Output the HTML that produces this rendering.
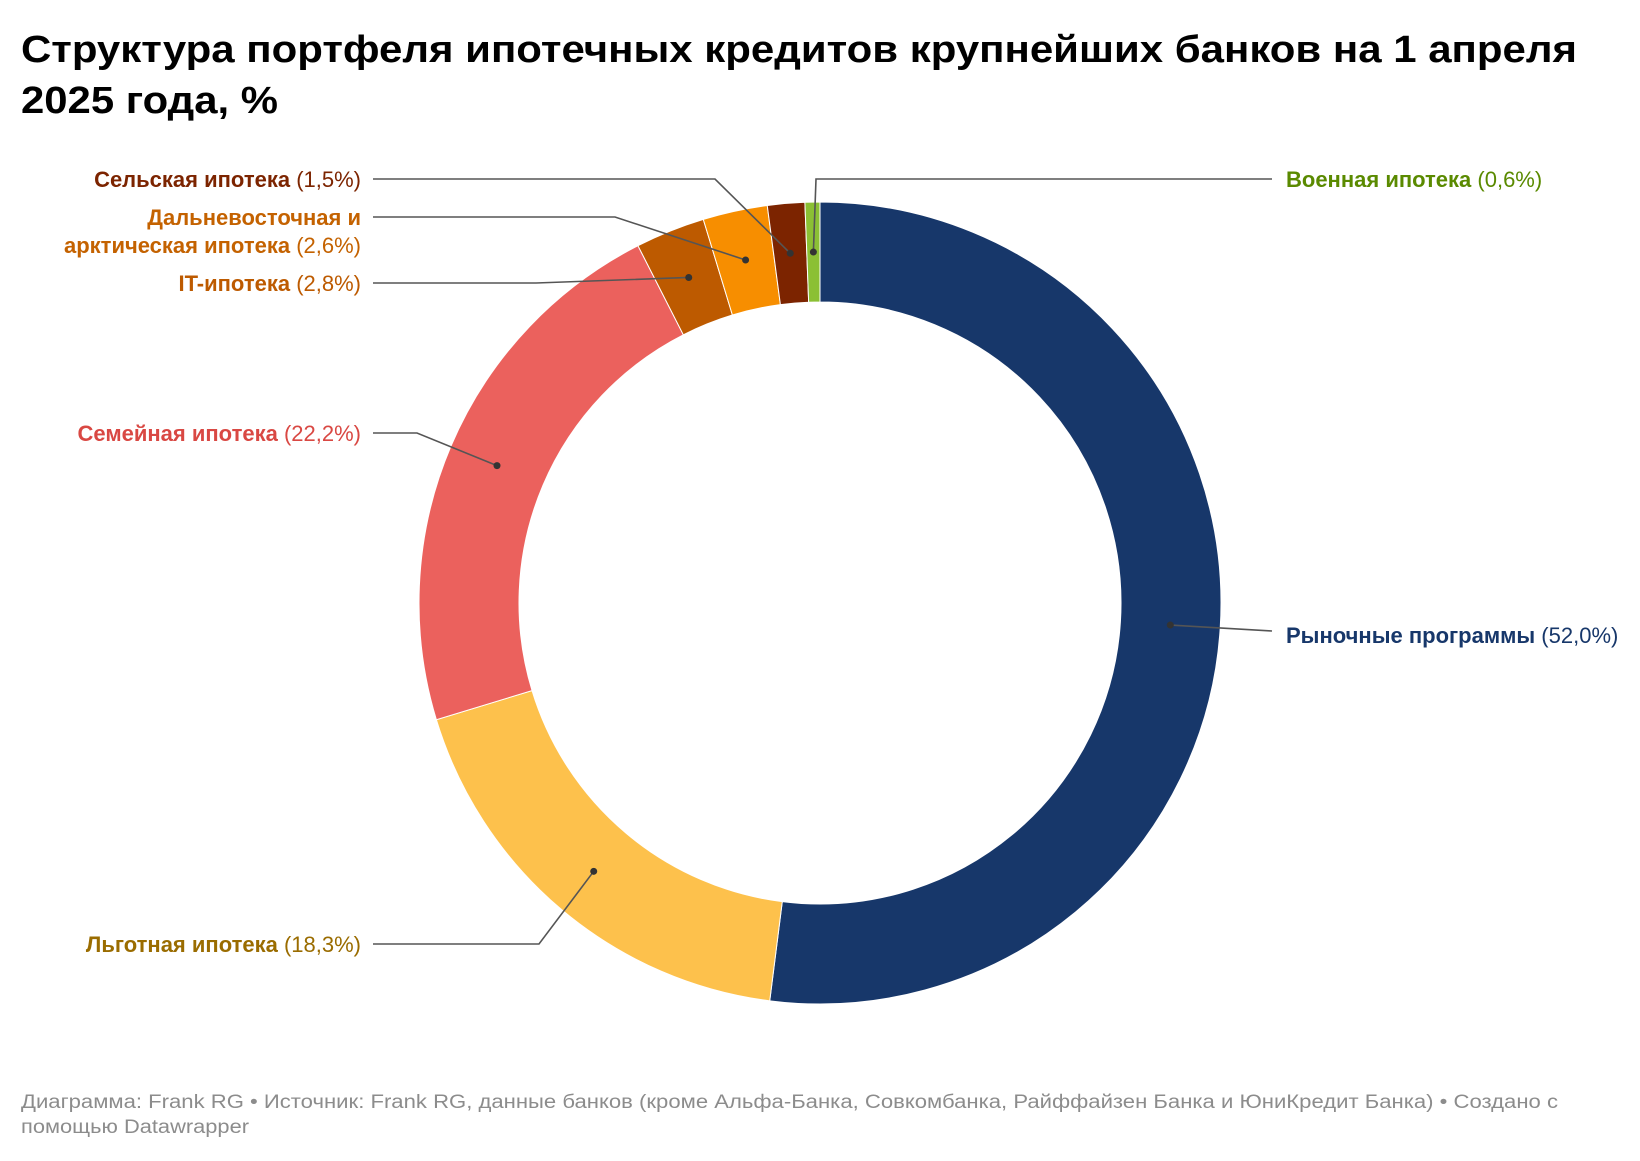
<!DOCTYPE html>
<html><head><meta charset="utf-8">
<style>
html,body{margin:0;padding:0;background:#fff;}
body{width:1640px;height:1156px;overflow:hidden;font-family:"Liberation Sans","Noto Sans CJK SC",sans-serif;}
svg text{font-family:"Liberation Sans","Noto Sans CJK SC",sans-serif;}
</style></head>
<body>
<svg id="chart" width="1640" height="1156" viewBox="0 0 1640 1156" xmlns="http://www.w3.org/2000/svg">
<text x="21" y="62" font-size="38" font-weight="bold" fill="#000" textLength="1556" lengthAdjust="spacingAndGlyphs">Структура портфеля ипотечных кредитов крупнейших банков на 1 апреля</text>
<text x="21" y="113" font-size="38" font-weight="bold" fill="#000" textLength="257" lengthAdjust="spacingAndGlyphs">2025 года, %</text>
<g id="slices"></g>
<g id="leaders"></g>
<g id="labels"></g>
<text x="21" y="1108" font-size="19" fill="#8c8c8c" textLength="1537" lengthAdjust="spacingAndGlyphs">Диаграмма: Frank RG • Источник: Frank RG, данные банков (кроме Альфа-Банка, Совкомбанка, Райффайзен Банка и ЮниКредит Банка) • Создано с</text>
<text x="21" y="1133" font-size="19" fill="#8c8c8c" textLength="228" lengthAdjust="spacingAndGlyphs">помощью Datawrapper</text>
</svg>
<script>
const categories = ["Рыночные программы","Льготная ипотека","Семейная ипотека","IT-ипотека","Дальневосточная и арктическая ипотека","Сельская ипотека","Военная ипотека"];
const values = [52.0, 18.3, 22.2, 2.8, 2.6, 1.5, 0.6];
const valueLabels = ["52,0%","18,3%","22,2%","2,8%","2,6%","1,5%","0,6%"];

const colors = ["#17376a","#fdc14c","#eb615d","#bd5a00","#f78e00","#7c2400","#8bc034"];
const textColors = ["#17376a","#9a6c00","#d94843","#bd5a00","#c46200","#7c2400","#5a8a00"];
const cx = 820, cy = 603, R = 401, r = 301, rDot = 351;
const NS = "http://www.w3.org/2000/svg";
const total = values.reduce((a,b)=>a+b,0);
function ang(v){ return v/total*2*Math.PI; }
function pt(a, rad){ return [cx + rad*Math.sin(a), cy - rad*Math.cos(a)]; }
const layout = [
  {side:"r", y:635, ex:1272, lines:[["Рыночные программы"," (52,0%)"]]},
  {side:"l", y:944, ex:539, lines:[["Льготная ипотека"," (18,3%)"]]},
  {side:"l", y:433, ex:417, lines:[["Семейная ипотека"," (22,2%)"]]},
  {side:"l", y:283, ex:536, lines:[["IT-ипотека"," (2,8%)"]]},
  {side:"l", y:217, ex:615, lines:[["Дальневосточная и",""],["арктическая ипотека"," (2,6%)"]]},
  {side:"l", y:179, ex:715, lines:[["Сельская ипотека"," (1,5%)"]]},
  {side:"r", y:179, ex:816, lines:[["Военная ипотека"," (0,6%)"]]}
];
const gS = document.getElementById("slices"), gL = document.getElementById("leaders"), gT = document.getElementById("labels");
let acc = 0;
values.forEach((v,i)=>{
  const a0 = ang(acc), a1 = ang(acc+v); acc += v;
  const large = (a1-a0) > Math.PI ? 1 : 0;
  const p0 = pt(a0,R), p1 = pt(a1,R), q1 = pt(a1,r), q0 = pt(a0,r);
  const path = document.createElementNS(NS,"path");
  path.setAttribute("d",`M${p0[0]},${p0[1]} A${R},${R} 0 ${large} 1 ${p1[0]},${p1[1]} L${q1[0]},${q1[1]} A${r},${r} 0 ${large} 0 ${q0[0]},${q0[1]} Z`);
  path.setAttribute("fill",colors[i]);
  path.setAttribute("stroke","#fff");
  path.setAttribute("stroke-width","1");
  
  
  gS.appendChild(path);
  const am = (a0+a1)/2, d = pt(am, rDot);
  const L = layout[i];
  const lineY = (L.side==="r" && i===0) ? L.y-4 : L.y;
  const endX = L.side==="r" ? 1272 : 373;
  const pl = document.createElementNS(NS,"polyline");
  pl.setAttribute("points",`${d[0]},${d[1]} ${L.ex},${lineY} ${endX},${lineY}`);
  pl.setAttribute("fill","none");
  pl.setAttribute("stroke","#555");
  pl.setAttribute("stroke-width","1.6");
  
  
  gL.appendChild(pl);
  const c = document.createElementNS(NS,"circle");
  c.setAttribute("cx",d[0]); c.setAttribute("cy",d[1]); c.setAttribute("r","3.5"); c.setAttribute("fill","#333");
  
  
  gL.appendChild(c);
  L.lines.forEach((ln,k)=>{
    const t = document.createElementNS(NS,"text");
    t.setAttribute("x", L.side==="r" ? 1286 : 361);
    t.setAttribute("y", L.y + 8 + k*28);
    t.setAttribute("text-anchor", L.side==="r" ? "start" : "end");
    t.setAttribute("font-size","22");
    t.setAttribute("fill", textColors[i]);
    
    
    const b = document.createElementNS(NS,"tspan");
    b.setAttribute("font-weight","bold");
    b.textContent = ln[0];
    t.appendChild(b);
    if (ln[1]) { const n = document.createElementNS(NS,"tspan"); n.textContent = ln[1]; t.appendChild(n); }
    gT.appendChild(t);
  });
});
</script>
</body></html>
